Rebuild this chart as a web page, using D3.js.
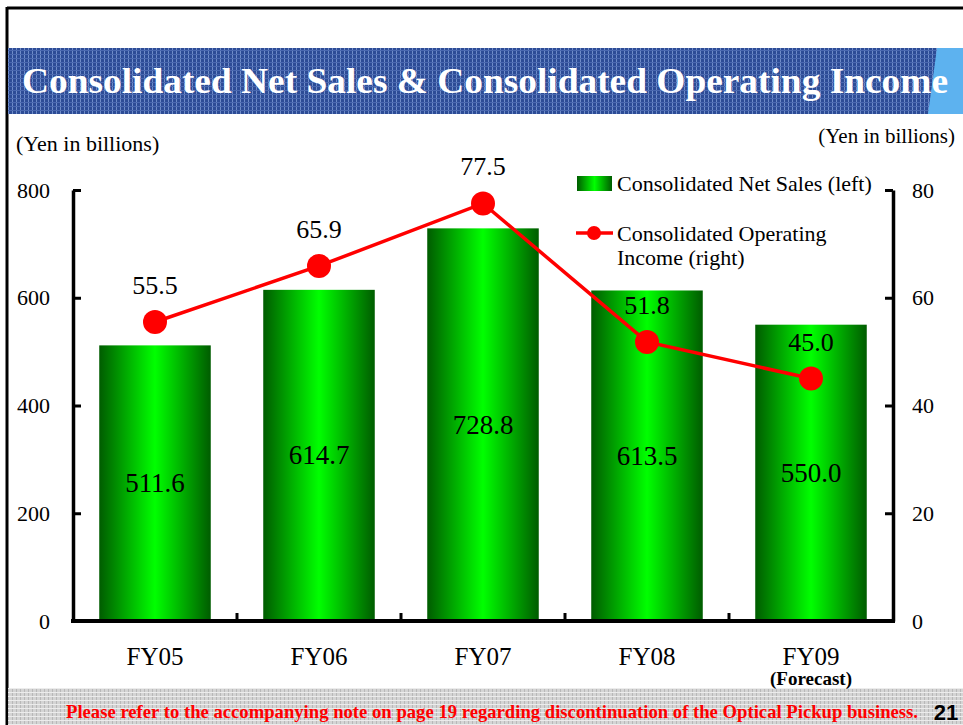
<!DOCTYPE html>
<html>
<head>
<meta charset="utf-8">
<script src="https://cdn.jsdelivr.net/npm/d3@7"></script>
<style>
  body { margin: 0; background: #fff; }
  svg { display: block; font-family: "Liberation Serif", "Times New Roman", serif; }
</style>
</head>
<body>
<svg id="chart" width="963" height="725"></svg>
<script>
// chart data
var categories = ["FY05", "FY06", "FY07", "FY08", "FY09"];
var net_sales = [511.6, 614.7, 728.8, 613.5, 550.0];
var op_income = [55.5, 65.9, 77.5, 51.8, 45.0];
var left_ticks = [0, 200, 400, 600, 800];
var right_ticks = [0, 20, 40, 60, 80];

var svg = d3.select("#chart");
var defs = svg.append("defs");

// title pattern (blue halftone)
var pt = defs.append("pattern").attr("id", "bluePat")
    .attr("width", 4).attr("height", 4).attr("patternUnits", "userSpaceOnUse");
pt.append("rect").attr("width", 4).attr("height", 4).attr("fill", "#2d4c96");
pt.append("rect").attr("x", 0).attr("width", 1).attr("height", 4).attr("fill", "#6f8cc8");
pt.append("rect").attr("y", 2).attr("width", 4).attr("height", 1).attr("fill", "#4a68b0");

// footer pattern (grey)
var pg = defs.append("pattern").attr("id", "greyPat")
    .attr("width", 4).attr("height", 4).attr("patternUnits", "userSpaceOnUse");
pg.append("rect").attr("width", 4).attr("height", 4).attr("fill", "#d4d4d4");
pg.append("rect").attr("x", 0).attr("width", 1).attr("height", 4).attr("fill", "#b8b8b8");
pg.append("rect").attr("y", 0).attr("width", 4).attr("height", 1).attr("fill", "#ececec");

// bar gradient
var grad = defs.append("linearGradient").attr("id", "barGrad")
    .attr("x1", "0%").attr("x2", "100%").attr("y1", "0%").attr("y2", "0%");
grad.append("stop").attr("offset", "0%").attr("stop-color", "#005c00");
grad.append("stop").attr("offset", "50%").attr("stop-color", "#00ff00");
grad.append("stop").attr("offset", "100%").attr("stop-color", "#005c00");

// page frame
svg.append("line").attr("x1", 7).attr("x2", 963).attr("y1", 8).attr("y2", 8)
    .attr("stroke", "#000").attr("stroke-width", 3);
svg.append("line").attr("x1", 7).attr("x2", 7).attr("y1", 7).attr("y2", 725)
    .attr("stroke", "#000").attr("stroke-width", 3);

// title band
svg.append("rect").attr("x", 8).attr("y", 48).attr("width", 955).attr("height", 66)
    .attr("fill", "url(#bluePat)");
svg.append("path").attr("d", "M937,48 L963,48 L963,114 L928,114 Z").attr("fill", "#5db2ef");
svg.append("text")
    .attr("x", 22).attr("y", 93)
    .attr("textLength", 926).attr("lengthAdjust", "spacingAndGlyphs")
    .attr("font-size", 36).attr("font-weight", "bold").attr("fill", "#fff")
    .text("Consolidated Net Sales & Consolidated Operating Income");

// footer band
svg.append("rect").attr("x", 8).attr("y", 688).attr("width", 955).attr("height", 37)
    .attr("fill", "url(#greyPat)");
svg.append("text")
    .attr("x", 66).attr("y", 718)
    .attr("textLength", 852).attr("lengthAdjust", "spacingAndGlyphs")
    .attr("font-size", 19).attr("font-weight", "bold").attr("fill", "#ff0000")
    .text("Please refer to the accompanying note on page 19 regarding discontinuation of the Optical Pickup business.");
svg.append("text")
    .attr("x", 946).attr("y", 720).attr("text-anchor", "middle")
    .attr("font-family", "Liberation Sans, Arial, sans-serif")
    .attr("font-size", 22).attr("font-weight", "bold").attr("fill", "#000")
    .text("21");

// scales
var plotLeft = 73, plotRight = 893, plotTop = 190, plotBottom = 621;
var x = d3.scaleBand().domain(categories).range([plotLeft, plotRight]).paddingInner(0.32).paddingOuter(0.16);
var y = d3.scaleLinear().domain([0, 800]).range([plotBottom, plotTop]);
var y2 = d3.scaleLinear().domain([0, 80]).range([plotBottom, plotTop]);

// bars
svg.append("g").selectAll("rect")
    .data(net_sales)
    .enter().append("rect")
    .attr("x", function(d, i){ return x(categories[i]); })
    .attr("y", function(d){ return y(d); })
    .attr("width", x.bandwidth())
    .attr("height", function(d){ return y(0) - y(d); })
    .attr("fill", "url(#barGrad)");

svg.append("g").selectAll("text")
    .data(net_sales)
    .enter().append("text")
    .attr("x", function(d, i){ return x(categories[i]) + x.bandwidth() / 2; })
    .attr("y", function(d){ return (y(d) + y(0)) / 2 + 9; })
    .attr("text-anchor", "middle")
    .attr("font-size", 27)
    .text(function(d){ return d.toFixed(1); });

// axes
var leftAxis = d3.axisLeft(y).tickValues(left_ticks).tickSizeInner(-8).tickSizeOuter(0).tickPadding(23);
var gl = svg.append("g").attr("transform", "translate(" + plotLeft + ",0)").call(leftAxis);
var rightAxis = d3.axisRight(y2).tickValues(right_ticks).tickSizeInner(-8).tickSizeOuter(0).tickPadding(19);
var gr = svg.append("g").attr("transform", "translate(" + plotRight + ",0)").call(rightAxis);
[gl, gr].forEach(function(g){
    g.attr("font-family", null).attr("font-size", null);
    g.select(".domain").attr("stroke-width", 3.5).attr("stroke", "#000");
    g.selectAll(".tick line").attr("stroke-width", 3).attr("stroke", "#000");
    g.selectAll(".tick text").attr("font-size", 22).attr("fill", "#000");
});

// bottom axis line with ticks between categories
svg.append("line").attr("x1", plotLeft - 2).attr("x2", plotRight + 2).attr("y1", plotBottom).attr("y2", plotBottom)
    .attr("stroke", "#000").attr("stroke-width", 4);
svg.append("g").selectAll("line")
    .data(d3.range(1, categories.length))
    .enter().append("line")
    .attr("x1", function(i){ return plotLeft + i * x.step(); })
    .attr("x2", function(i){ return plotLeft + i * x.step(); })
    .attr("y1", plotBottom).attr("y2", plotBottom - 8)
    .attr("stroke", "#000").attr("stroke-width", 3);

svg.append("g").selectAll("text")
    .data(categories)
    .enter().append("text")
    .attr("x", function(d){ return x(d) + x.bandwidth() / 2; })
    .attr("y", 665)
    .attr("text-anchor", "middle")
    .attr("font-size", 25)
    .text(function(d){ return d; });
svg.append("text")
    .attr("x", x("FY09") + x.bandwidth() / 2).attr("y", 685)
    .attr("text-anchor", "middle").attr("font-size", 19).attr("font-weight", "bold")
    .text("(Forecast)");

// unit labels
svg.append("text").attr("x", 16).attr("y", 151).attr("font-size", 22).text("(Yen in billions)");
svg.append("text").attr("x", 955).attr("y", 143).attr("text-anchor", "end").attr("font-size", 21).text("(Yen in billions)");

// operating income line
var line = d3.line()
    .x(function(d, i){ return x(categories[i]) + x.bandwidth() / 2; })
    .y(function(d){ return y2(d); });
svg.append("path").datum(op_income)
    .attr("d", line).attr("fill", "none").attr("stroke", "#ff0000").attr("stroke-width", 3.5);
svg.append("g").selectAll("circle")
    .data(op_income)
    .enter().append("circle")
    .attr("cx", function(d, i){ return x(categories[i]) + x.bandwidth() / 2; })
    .attr("cy", function(d){ return y2(d); })
    .attr("r", 12).attr("fill", "#ff0000");
svg.append("g").selectAll("text")
    .data(op_income)
    .enter().append("text")
    .attr("x", function(d, i){ return x(categories[i]) + x.bandwidth() / 2; })
    .attr("y", function(d){ return y2(d) - 28; })
    .attr("text-anchor", "middle").attr("font-size", 26)
    .text(function(d){ return d.toFixed(1); });

// legend
svg.append("rect").attr("x", 577).attr("y", 176).attr("width", 35).attr("height", 15).attr("fill", "url(#barGrad)");
svg.append("text").attr("x", 617).attr("y", 191).attr("font-size", 22).text("Consolidated Net Sales (left)");
svg.append("line").attr("x1", 576).attr("x2", 613).attr("y1", 233).attr("y2", 233)
    .attr("stroke", "#ff0000").attr("stroke-width", 3.5);
svg.append("circle").attr("cx", 594).attr("cy", 233).attr("r", 7).attr("fill", "#ff0000");
svg.append("text").attr("x", 617).attr("y", 241).attr("font-size", 22).text("Consolidated Operating");
svg.append("text").attr("x", 617).attr("y", 265).attr("font-size", 22).text("Income (right)");
</script>
</body>
</html>
